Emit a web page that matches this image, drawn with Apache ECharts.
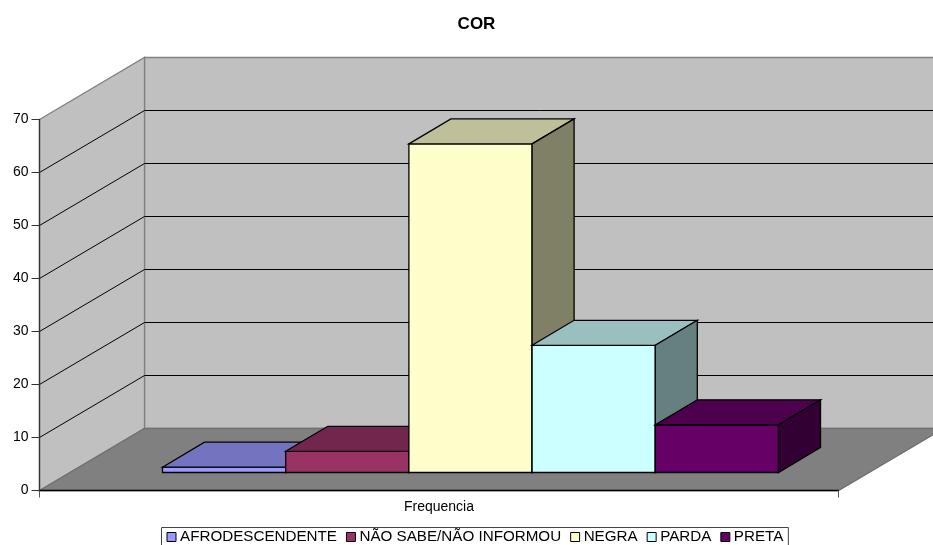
<!DOCTYPE html>
<html>
<head>
<meta charset="utf-8">
<style>html,body{margin:0;padding:0;background:#fff}#c{width:933px;height:545px}</style>
<script src="https://cdn.jsdelivr.net/npm/echarts@6/dist/echarts.min.js"></script>
</head>
<body>
<div id="c"></div>
<script>
const categories = ['Frequencia'];
const seriesNames = ['AFRODESCENDENTE', 'NÃO SABE/NÃO INFORMOU', 'NEGRA', 'PARDA', 'PRETA'];
const seriesValues = [1, 4, 62, 24, 9];
const yTicks = [0, 10, 20, 30, 40, 50, 60, 70];
const frontColors = ['#9999FF', '#993366', '#FFFFCC', '#CCFFFF', '#660066'];
const topColors = ['#7373BF', '#73264D', '#BFBF99', '#99BFBF', '#4D004D'];
const sideColors = ['#4D4D80', '#4D1A33', '#808066', '#668080', '#330033'];

const FONT = '"Liberation Sans", Arial, sans-serif';
const WALL_DX = 105, WALL_DY = -62;      // full floor depth in screen pixels
const GAP_DX = 31.5, GAP_DY = -18;       // front of the floor to front of the bars
const BAR_DX = 42, BAR_DY = -25;         // bar depth
const BAR_FRACTION = 0.1542;             // bar width as a share of the category band
const EDGE = 1.3;

function poly(points, fill, stroke, width) {
  return { type: 'polygon', shape: { points: points },
    style: { fill: fill, stroke: stroke || null, lineWidth: width || 0, lineJoin: 'miter' } };
}
function line(a, b, stroke, width) {
  return { type: 'line', shape: { x1: a[0], y1: a[1], x2: b[0], y2: b[1] },
    style: { stroke: stroke, lineWidth: width || 1 } };
}

function renderWalls(params, api) {
  if (params.dataIndex !== 0) return null;
  const band = api.size([1, 0])[0];
  const c = api.coord([0, 0]);
  const x0 = c[0] - band / 2, x1 = c[0] + band / 2;
  const y0 = c[1], yTop = api.coord([0, yTicks[yTicks.length - 1]])[1];
  const bx0 = x0 + WALL_DX, bx1 = x1 + WALL_DX;
  const children = [
    poly([[bx0, yTop + WALL_DY], [bx1, yTop + WALL_DY], [bx1, y0 + WALL_DY], [bx0, y0 + WALL_DY]], '#C0C0C0', '#808080', 1.3),
    poly([[x0, yTop], [bx0, yTop + WALL_DY], [bx0, y0 + WALL_DY], [x0, y0]], '#C0C0C0', '#808080', 1.3),
    poly([[x0, y0], [bx0, y0 + WALL_DY], [bx1, y0 + WALL_DY], [x1, y0]], '#808080', '#707070', 1.3)
  ];
  yTicks.forEach(function (t) {
    if (t === 0 || t === yTicks[yTicks.length - 1]) return;
    const y = api.coord([0, t])[1];
    children.push(line([x0, y], [bx0, y + WALL_DY], '#000', 1));
    children.push(line([bx0, y + WALL_DY], [bx1, y + WALL_DY], '#000', 1));
  });
  return { type: 'group', children: children };
}

function makeBarRenderer(i) {
  return function (params, api) {
    const band = api.size([1, 0])[0];
    const w = band * BAR_FRACTION;
    const base = api.coord([0, 0]);
    const top = api.coord([0, api.value(1)]);
    const xL = base[0] + (i - seriesNames.length / 2) * w + GAP_DX;
    const xR = xL + w;
    const yB = base[1] + GAP_DY, yT = top[1] + GAP_DY;
    const s = '#000';
    return { type: 'group', children: [
      poly([[xL, yT], [xR, yT], [xR, yB], [xL, yB]], frontColors[i], s, EDGE),
      poly([[xL, yT], [xL + BAR_DX, yT + BAR_DY], [xR + BAR_DX, yT + BAR_DY], [xR, yT]], topColors[i], s, EDGE),
      poly([[xR, yT], [xR + BAR_DX, yT + BAR_DY], [xR + BAR_DX, yB + BAR_DY], [xR, yB]], sideColors[i], s, EDGE)
    ] };
  };
}

const series = [{
  type: 'custom', name: '_walls', z: 1, silent: true, clip: false,
  renderItem: renderWalls, data: [[0, 0]], encode: { x: 0, y: 1 }
}];
seriesNames.forEach(function (name, i) {
  series.push({
    type: 'custom', name: name, z: 2 + i, clip: false,
    itemStyle: { color: frontColors[i] },
    renderItem: makeBarRenderer(i),
    data: [[0, seriesValues[i]]], encode: { x: 0, y: 1 }
  });
});

const chart = echarts.init(document.getElementById('c'), null, { renderer: 'canvas' });
chart.setOption({
  animation: false,
  backgroundColor: '#fff',
  title: {
    text: 'COR', left: 476.5, top: 16, textAlign: 'center', padding: 0,
    textStyle: { fontFamily: FONT, fontSize: 17, fontWeight: 'bold', color: '#000' }
  },
  grid: { left: 39.5, top: 119.5, width: 799, height: 371, containLabel: false },
  xAxis: {
    type: 'category', data: categories, z: 20,
    axisLine: { show: true, onZero: false, lineStyle: { color: '#000', width: 1.3 } },
    axisTick: { show: true, alignWithLabel: false, length: 7, lineStyle: { color: '#555' } },
    axisLabel: { fontFamily: FONT, fontSize: 14, color: '#000', margin: 10 },
    splitLine: { show: false }
  },
  yAxis: {
    type: 'value', min: 0, max: 70, interval: 10, z: 20,
    axisLine: { show: true, lineStyle: { color: '#333', width: 1.3 } },
    axisTick: { show: true, length: 8, lineStyle: { color: '#333' } },
    axisLabel: { fontFamily: FONT, fontSize: 14, color: '#000', margin: 11 },
    splitLine: { show: false }
  },
  legend: {
    data: seriesNames, left: 161.5, top: 527.5, orient: 'horizontal',
    padding: [2, 5, 3, 5], itemGap: 9, itemWidth: 9, itemHeight: 9,
    icon: 'rect', borderColor: '#444', borderWidth: 1, backgroundColor: '#fff',
    itemStyle: { borderColor: '#000', borderWidth: 1 },
    textStyle: { fontFamily: FONT, fontSize: 15.2, color: '#000', padding: [0, 0, 0, -1] },
    selectedMode: false
  },
  series: series
});
</script>
</body>
</html>
